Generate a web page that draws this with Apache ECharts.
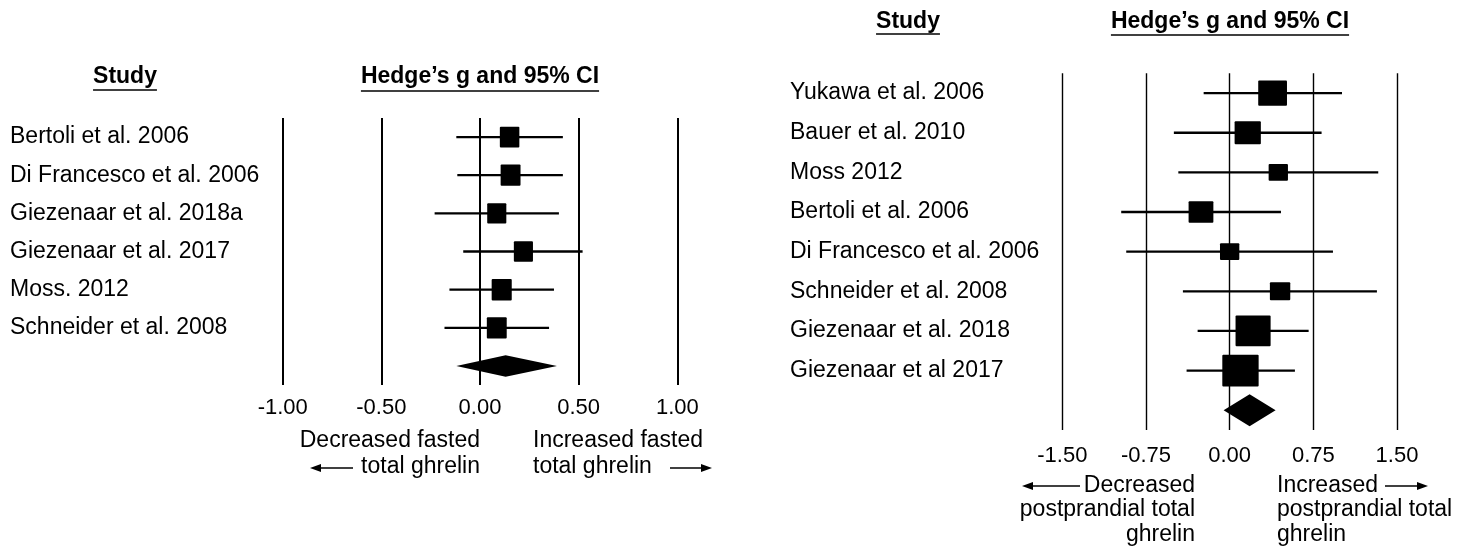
<!DOCTYPE html>
<html>
<head>
<meta charset="utf-8">
<script src="https://cdn.jsdelivr.net/npm/echarts@6/dist/echarts.min.js"></script>
<style>
html,body{margin:0;padding:0;background:#fff;}
#c{width:1472px;height:557px;}
</style>
</head>
<body>
<div id="c"></div>
<script>
// ---------------- DATA ----------------
// Left panel: fasted total ghrelin
const leftStudies = ['Bertoli et al. 2006', 'Di Francesco et al. 2006', 'Giezenaar et al. 2018a', 'Giezenaar et al. 2017', 'Moss. 2012', 'Schneider et al. 2008'];
const leftG      = [0.150, 0.155, 0.085, 0.220, 0.110, 0.085];
const leftLower  = [-0.120, -0.115, -0.230, -0.085, -0.155, -0.180];
const leftUpper  = [0.420, 0.420, 0.400, 0.520, 0.375, 0.350];
const leftWeight = [10, 10.2, 9.8, 9.8, 10.3, 10.2];
const leftPooled = {g: 0.130, lower: -0.120, upper: 0.390};
const leftTicks  = [-1.00, -0.50, 0.00, 0.50, 1.00];

// Right panel: postprandial total ghrelin
const rightStudies = ['Yukawa et al. 2006', 'Bauer et al. 2010', 'Moss 2012', 'Bertoli et al. 2006', 'Di Francesco et al. 2006', 'Schneider et al. 2008', 'Giezenaar et al. 2018', 'Giezenaar et al 2017'];
const rightG      = [0.385, 0.162, 0.436, -0.257, 0.000, 0.452, 0.210, 0.097];
const rightLower  = [-0.233, -0.500, -0.460, -0.972, -0.927, -0.419, -0.287, -0.386];
const rightUpper  = [1.007, 0.824, 1.332, 0.460, 0.926, 1.320, 0.708, 0.585];
const rightWeight = [13.7, 12.5, 9.2, 11.8, 9.2, 9.7, 16.7, 17.3];
const rightPooled = {g: 0.179, lower: -0.054, upper: 0.412};
const rightTicks  = [-1.50, -0.75, 0.00, 0.75, 1.50];

// ---------------- CHART ----------------
const FONT = '"Liberation Sans", Arial, sans-serif';
const chart = echarts.init(document.getElementById('c'), null, {renderer: 'canvas'});

const L = {left: 282.7, right: 677.3, top: 118, bottom: 385, pxPerW: 1.95, sqRatio: 1.07, lw: 2.3, diamondH: 10.8};
const R = {left: 1062.3, right: 1397, top: 73.3, bottom: 430, pxPerW: 2.1, sqRatio: 0.875, lw: 2.3, diamondH: 16};

function buildStudyData(g, lo, hi, w) {
  return g.map((v, i) => [v, i, lo[i], hi[i], w[i]]);
}

function makeStudyRender(cfg) {
  return function (params, api) {
    const est = api.value(0), row = api.value(1), lo = api.value(2), hi = api.value(3), w = api.value(4);
    const pLo = api.coord([lo, row]);
    const pHi = api.coord([hi, row]);
    const pE = api.coord([est, row]);
    const sw = w * cfg.pxPerW, sh = sw * cfg.sqRatio;
    return {
      type: 'group',
      children: [
        {type: 'line', shape: {x1: pLo[0], y1: pLo[1], x2: pHi[0], y2: pHi[1]}, style: {stroke: '#000', lineWidth: cfg.lw}},
        {type: 'rect', shape: {x: pE[0] - sw / 2, y: pE[1] - sh / 2, width: sw, height: sh, r: 1}, style: {fill: '#000'}}
      ]
    };
  };
}

function makeDiamondRender(cfg) {
  return function (params, api) {
    const est = api.value(0), row = api.value(1), lo = api.value(2), hi = api.value(3);
    const pLo = api.coord([lo, row]);
    const pHi = api.coord([hi, row]);
    const pE = api.coord([est, row]);
    return {
      type: 'polygon',
      shape: {points: [[pLo[0], pLo[1]], [pE[0], pE[1] - cfg.diamondH], [pHi[0], pHi[1]], [pE[0], pE[1] + cfg.diamondH]]},
      style: {fill: '#000'}
    };
  };
}

function xAxisFor(gridIndex, ticks, splitW) {
  const step = ticks[1] - ticks[0];
  return {
    type: 'value', gridIndex: gridIndex,
    min: ticks[0], max: ticks[ticks.length - 1], interval: step,
    axisLine: {show: false}, axisTick: {show: false},
    splitLine: {show: true, showMinLine: true, showMaxLine: true, lineStyle: {color: '#000', width: splitW}},
    axisLabel: {
      color: '#000', fontFamily: FONT, fontSize: 22, margin: gridIndex === 0 ? 12 : 15,
      formatter: v => v.toFixed(2),
      showMinLabel: true, showMaxLabel: true
    }
  };
}

function yAxisFor(gridIndex, studies, labelX, gridLeft) {
  return {
    type: 'category', gridIndex: gridIndex, inverse: true,
    data: studies.concat(['']),
    axisLine: {show: false}, axisTick: {show: false}, splitLine: {show: false},
    axisLabel: {color: '#000', fontFamily: FONT, fontSize: 23, align: 'left', margin: gridLeft - labelX, interval: 0}
  };
}

// measure text for header underlines
const mctx = document.createElement('canvas').getContext('2d');
function textW(txt, font) { mctx.font = font; return mctx.measureText(txt).width; }

function header(txt, cx, cy, underY) {
  const font = 'bold 23px ' + FONT;
  const w = textW(txt, font);
  return [
    {type: 'text', left: cx - w / 2, top: cy - 13, style: {text: txt, font: font, fill: '#000'}},
    {type: 'line', shape: {x1: cx - w / 2, y1: underY, x2: cx + w / 2, y2: underY}, style: {stroke: '#000', lineWidth: 1.6}}
  ];
}

function txt(t, x, cy, align) {
  return {type: 'text', x: x, y: cy, style: {text: t, font: '23px ' + FONT, fill: '#000', align: align, verticalAlign: 'middle'}};
}

function arrow(x1, x2, y) {
  // head at x2
  const dir = x2 > x1 ? 1 : -1;
  const hl = 11, hw = 4;
  return [
    {type: 'line', shape: {x1: x1, y1: y, x2: x2 - dir * hl * 0.7, y2: y}, style: {stroke: '#000', lineWidth: 1.4}},
    {type: 'polygon', shape: {points: [[x2, y], [x2 - dir * hl, y - hw], [x2 - dir * hl, y + hw]]}, style: {fill: '#000'}}
  ];
}

const graphics = [].concat(
  header('Study', 125, 78, 90),
  header('Hedge\u2019s g and 95% CI', 480, 78, 91),
  header('Study', 908, 23, 34),
  header('Hedge\u2019s g and 95% CI', 1230, 23, 35),
  [txt('Decreased fasted', 480, 441, 'right'), txt('total ghrelin', 480, 467, 'right')],
  arrow(353, 310, 468),
  [txt('Increased fasted', 533, 441, 'left'), txt('total ghrelin', 533, 467, 'left')],
  arrow(670, 712, 468),
  [txt('Decreased', 1195, 486, 'right'), txt('postprandial total', 1195, 510, 'right'), txt('ghrelin', 1195, 535, 'right')],
  arrow(1080, 1022, 486),
  [txt('Increased', 1277, 486, 'left'), txt('postprandial total', 1277, 510, 'left'), txt('ghrelin', 1277, 535, 'left')],
  arrow(1385, 1428, 486)
);

const option = {
  backgroundColor: '#fff',
  animation: false,
  grid: [
    {left: L.left, width: L.right - L.left, top: L.top, height: L.bottom - L.top},
    {left: R.left, width: R.right - R.left, top: R.top, height: R.bottom - R.top}
  ],
  xAxis: [xAxisFor(0, leftTicks, 2), xAxisFor(1, rightTicks, 1.4)],
  yAxis: [yAxisFor(0, leftStudies, 10, L.left), yAxisFor(1, rightStudies, 790, R.left)],
  series: [
    {type: 'custom', xAxisIndex: 0, yAxisIndex: 0, renderItem: makeStudyRender(L),
     data: buildStudyData(leftG, leftLower, leftUpper, leftWeight)},
    {type: 'custom', xAxisIndex: 0, yAxisIndex: 0, renderItem: makeDiamondRender(L),
     data: [[leftPooled.g, leftStudies.length, leftPooled.lower, leftPooled.upper]]},
    {type: 'custom', xAxisIndex: 1, yAxisIndex: 1, renderItem: makeStudyRender(R),
     data: buildStudyData(rightG, rightLower, rightUpper, rightWeight)},
    {type: 'custom', xAxisIndex: 1, yAxisIndex: 1, renderItem: makeDiamondRender(R),
     data: [[rightPooled.g, rightStudies.length, rightPooled.lower, rightPooled.upper]]}
  ],
  graphic: graphics
};
chart.setOption(option);
</script>
</body>
</html>
